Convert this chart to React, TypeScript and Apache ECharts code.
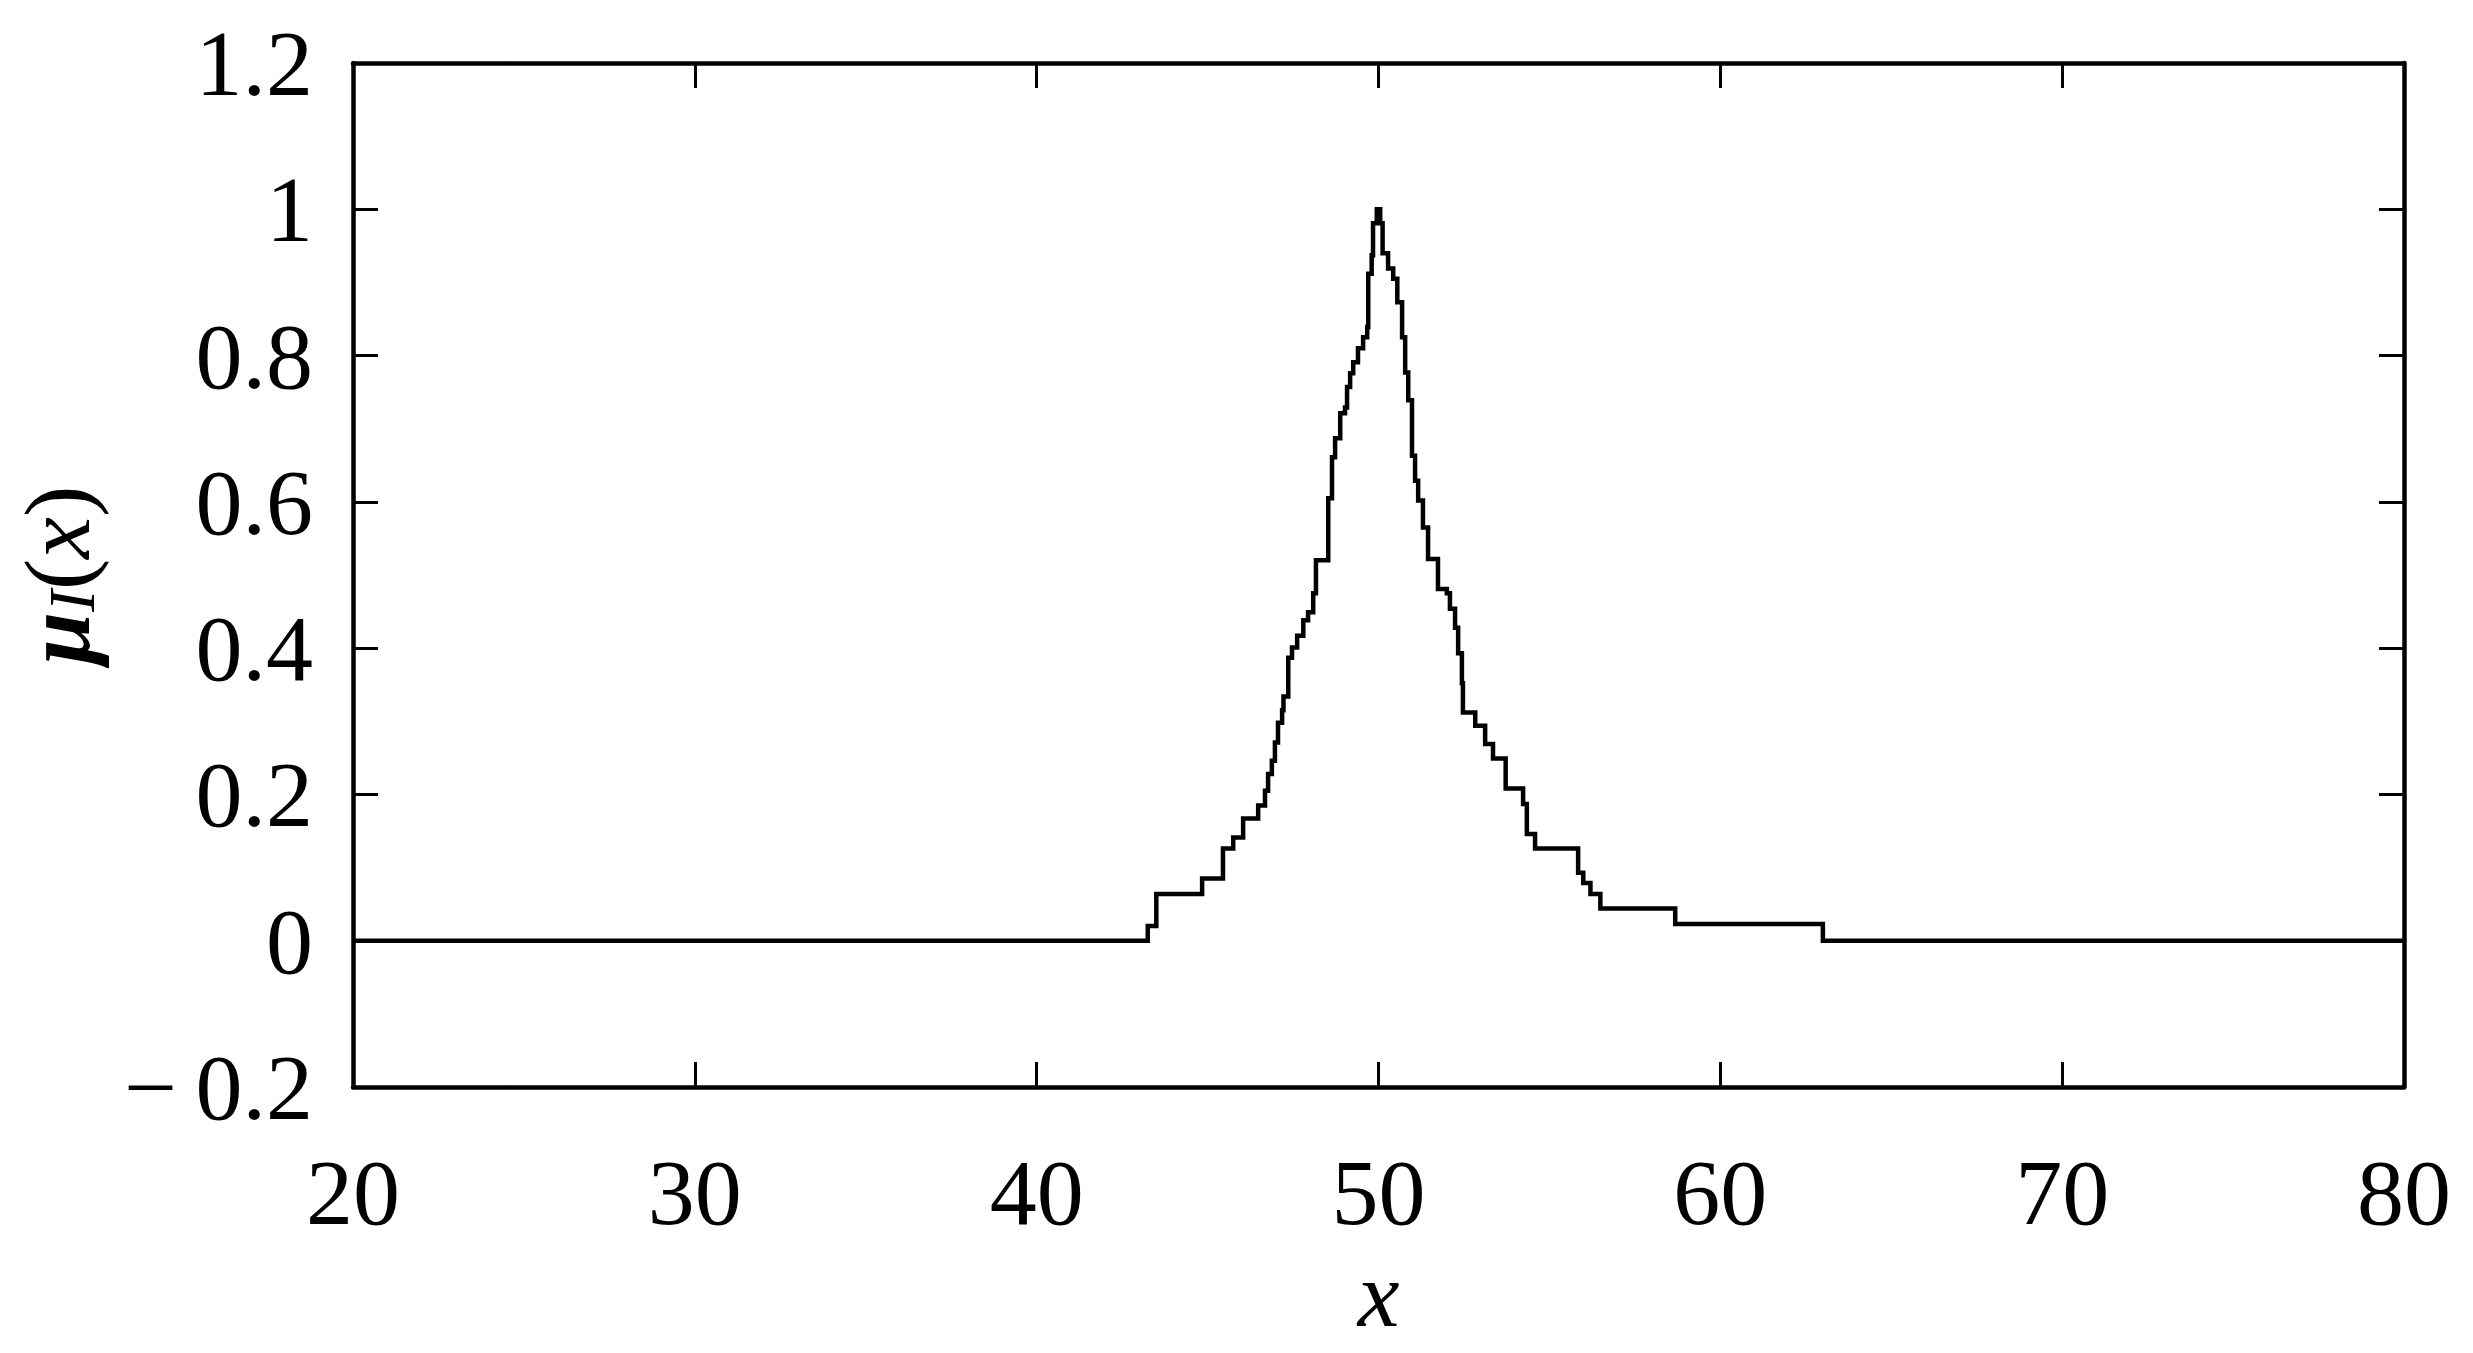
import React, { useEffect, useRef } from "react";
import * as echarts from "echarts";

// Step-curve breakpoints: value holds from x until next x
const stepX = [
  20, 43.25, 43.5, 44.84, 45.45, 45.75, 46.04, 46.48, 46.68, 46.77, 46.88, 46.97,
  47.06, 47.18, 47.22, 47.36, 47.47, 47.62, 47.8, 47.94, 48.09, 48.17, 48.53,
  48.64, 48.73, 48.88, 49.02, 49.08, 49.17, 49.26, 49.4, 49.55, 49.67, 49.7,
  49.8, 49.84, 49.95, 50.05, 50.12, 50.28, 50.43, 50.55, 50.69, 50.78, 50.87,
  50.98, 51.07, 51.16, 51.3, 51.45, 51.74, 52.0, 52.09, 52.24, 52.33, 52.44,
  52.47, 52.83, 53.12, 53.35, 53.72, 54.23, 54.34, 54.58, 55.84, 55.99, 56.2,
  56.49, 58.68, 63.0, 80,
];
const stepY = [
  0, 0.02, 0.064, 0.085, 0.126, 0.141, 0.167, 0.185, 0.205, 0.228, 0.246, 0.271,
  0.298, 0.315, 0.334, 0.387, 0.401, 0.417, 0.438, 0.449, 0.475, 0.52, 0.605,
  0.661, 0.687, 0.721, 0.729, 0.757, 0.776, 0.791, 0.81, 0.825, 0.839, 0.912,
  0.937, 0.981, 1.0, 0.981, 0.94, 0.919, 0.905, 0.873, 0.825, 0.777, 0.739,
  0.663, 0.629, 0.602, 0.565, 0.522, 0.481, 0.475, 0.454, 0.428, 0.393, 0.352,
  0.312, 0.294, 0.269, 0.249, 0.208, 0.187, 0.146, 0.126, 0.093, 0.079, 0.064,
  0.044, 0.023, 0, 0,
];

const xTickLabels = ["20", "30", "40", "50", "60", "70", "80"];
const yTickLabels = ["\u2212\u20090.2", "0", "0.2", "0.4", "0.6", "0.8", "1", "1.2"];

const FONT = "'Liberation Serif', 'Times New Roman', serif";
const FS = 94;

export default function App() {
  const ref = useRef<HTMLDivElement>(null);

  useEffect(() => {
    if (!ref.current) return;
    const chart = echarts.init(ref.current, null, { renderer: "svg" });
    const data = stepX.map((x, i) => [x, stepY[i]]);

    const axisLine = { show: true, onZero: false, lineStyle: { color: "#000", width: 4.5 } };
    const tick = { show: true, inside: true, length: 25, lineStyle: { color: "#000", width: 3 } };
    const labelStyle = { color: "#000", fontFamily: FONT, fontSize: FS };

    const xFmt = (v: number) => {
      const i = Math.round((v - 20) / 10);
      return xTickLabels[i] ?? "";
    };
    const yFmt = (v: number) => {
      const i = Math.round((v + 0.2) / 0.2);
      return yTickLabels[i] ?? "";
    };

    chart.setOption({
      animation: false,
      backgroundColor: "#fff",
      grid: { left: 353, right: 69, top: 63, bottom: 266, containLabel: false },
      xAxis: [
        {
          type: "value",
          min: 20,
          max: 80,
          interval: 10,
          position: "bottom",
          axisLine,
          axisTick: tick,
          splitLine: { show: false },
          axisLabel: { ...labelStyle, margin: 58, formatter: xFmt },
          name: "x",
          nameLocation: "middle",
          nameGap: 160,
          nameTextStyle: { ...labelStyle, fontStyle: "italic" },
        },
        {
          type: "value",
          min: 20,
          max: 80,
          interval: 10,
          position: "top",
          axisLine,
          axisTick: tick,
          splitLine: { show: false },
          axisLabel: { show: false },
        },
      ],
      yAxis: [
        {
          type: "value",
          min: -0.2,
          max: 1.2,
          interval: 0.2,
          position: "left",
          axisLine,
          axisTick: tick,
          splitLine: { show: false },
          axisLabel: { ...labelStyle, margin: 40, formatter: yFmt },
          name: "{mu|\u03bc}{sub|I}{p|(}{it|x}{p|)}",
          nameLocation: "middle",
          nameRotate: 90,
          nameGap: 249,
          nameTextStyle: {
            ...labelStyle,
            rich: {
              mu: { fontFamily: FONT, fontSize: FS, fontStyle: "italic", fontWeight: "bold", color: "#000", lineHeight: 94, verticalAlign: "middle" },
              sub: { fontFamily: FONT, fontSize: 66, fontStyle: "italic", color: "#000", lineHeight: 46, verticalAlign: "bottom" },
              p: { fontFamily: FONT, fontSize: FS, color: "#000", lineHeight: 94, verticalAlign: "middle" },
              it: { fontFamily: FONT, fontSize: FS, fontStyle: "italic", color: "#000", lineHeight: 94, verticalAlign: "middle" },
            },
          },
        },
        {
          type: "value",
          min: -0.2,
          max: 1.2,
          interval: 0.2,
          position: "right",
          axisLine,
          axisTick: tick,
          splitLine: { show: false },
          axisLabel: { show: false },
        },
      ],
      series: [
        {
          type: "line",
          step: "end",
          data,
          showSymbol: false,
          symbol: "none",
          lineStyle: { color: "#000", width: 4.5, join: "miter" },
          xAxisIndex: 0,
          yAxisIndex: 0,
          z: 3,
        },
      ],
    });

    return () => chart.dispose();
  }, []);

  return (
    <div
      ref={ref}
      style={{ position: "absolute", left: 0, top: 0, width: 2473, height: 1353, background: "#fff" }}
    />
  );
}
